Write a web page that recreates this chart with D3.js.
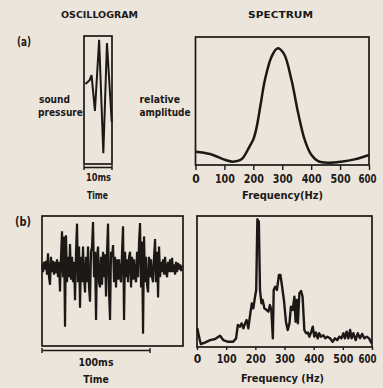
<!DOCTYPE html>
<html>
<head>
<meta charset="utf-8">
<script src="https://cdn.jsdelivr.net/npm/d3@7"></script>
<style>
  body { margin: 0; background: #ece5dc; }
  svg { display: block; }
  text { font-family: "DejaVu Sans", Lato, sans-serif; font-weight: bold; fill: #1b1816; }
</style>
</head>
<body>
<svg id="chart" width="383" height="388"></svg>
<script>
// ---- data ----
const freqTicks = [0, 100, 200, 300, 400, 500, 600];

// (a) single call, oscillogram: time in ms, relative sound pressure
const oscATime = [0.5, 2.0, 2.7, 3.9, 5.4, 6.9, 8.2, 9.9];
const oscAPressure = [0.25, 0.31, 0.39, -0.17, 0.94, -0.83, 0.89, -0.34];

// (a) spectrum
const specAFreq = [0, 50, 104, 130, 159, 188, 200, 211, 225, 240, 263, 283, 305, 332, 355, 378, 401, 424, 458, 504, 550, 600];
const specAAmp = [0.104, 0.086, 0.039, 0.026, 0.044, 0.15, 0.2, 0.29, 0.47, 0.664, 0.846, 0.911, 0.872, 0.664, 0.406, 0.195, 0.078, 0.031, 0.018, 0.026, 0.044, 0.078];

// (b) song, oscillogram: one sample every 0.93 ms
const oscBStepMs = 0.926;
const oscBPressure = [
  0.05, -0.1, 0.1, -0.05, 0.12, -0.15, 0.27, -0.2, -0.35, 0.2,
  -0.1, 0.12, -0.15, 0.1, -0.12, 0.15, -0.2, 0.1, -0.48, 0.2,
  0.7, -0.2, 0.6, -1.17, 0.62, -0.3, 0.2, -0.2, 0.45, -0.25,
  0.2, -0.3, 0.1, -0.65, 0.3, 0.85, -0.3, 0.4, -0.8, 0.2,
  -0.3, 0.4, -0.2, -0.5, 0.2, -0.3, 0.4, -0.4, -0.68, 0.3,
  0.4, 0.88, -0.2, 0.3, -1.04, 0.2, 0.4, -0.3, -0.4, 0.2,
  -0.35, 0.3, -0.2, 0.25, -0.58, 0.3, 0.85, -0.5, -1.04, 0.3,
  0.2, 0.43, -0.3, 0.2, -0.4, 0.15, -0.25, 0.15, -0.2, -0.3,
  0.3, 0.8, -1.04, 0.3, -0.2, 0.15, -0.3, 0.2, 0.3, -0.4,
  0.2, -0.25, 0.15, -0.2, -0.3, 0.3, -0.2, 0.5, 0.86, -0.4,
  0.5, -1.31, 0.6, -0.3, 0.2, -0.35, -0.5, 0.2, -0.2, 0.15,
  -0.2, -0.3, 0.2, 0.55, -0.3, 0.3, -0.6, 0.4, -0.2, 0.1,
  -0.1, 0.15, -0.15, 0.2, -0.1, -0.2, 0.1, -0.1, 0.15, -0.1,
  0.18, -0.1, 0.05, -0.15, 0.1, -0.1, 0.08, -0.05, 0.05, -0.08,
  0.03
];

// (b) spectrum
const specBFreq = [1, 7, 13, 27, 45, 62, 79, 90, 107, 124, 134, 140, 147, 153, 159, 165, 170, 176, 182, 188,
  193, 199, 203, 207, 212, 216, 221, 225, 231, 239, 245, 250, 255, 260, 263, 268, 274, 281, 286, 291,
  298, 305, 311, 317, 322, 328, 334, 338, 342, 346, 351, 357, 362, 368, 374, 380, 385, 391, 397, 402,
  408, 414, 419, 425, 433, 440, 447, 456, 465, 473, 481, 488, 495, 502, 507, 513, 519, 525, 530, 536,
  544, 551, 559, 566, 574, 582, 590, 599];
const specBAmp = [0.145, 0.079, 0.023, 0.033, 0.053, 0.061, 0.086, 0.053, 0.04, 0.04, 0.066, 0.168, 0.155, 0.18, 0.143, 0.18, 0.206, 0.143, 0.244, 0.333,
  0.295, 0.384, 0.435, 0.975, 0.957, 0.435, 0.333, 0.359, 0.295, 0.282, 0.27, 0.32, 0.282, 0.066, 0.435, 0.46, 0.435, 0.55, 0.55, 0.473,
  0.359, 0.193, 0.13, 0.18, 0.308, 0.282, 0.384, 0.193, 0.359, 0.18, 0.41, 0.427, 0.384, 0.13, 0.105, 0.11, 0.079, 0.11, 0.155, 0.079,
  0.11, 0.066, 0.105, 0.079, 0.09, 0.066, 0.079, 0.066, 0.04, 0.066, 0.053, 0.079, 0.066, 0.105, 0.066, 0.117, 0.066, 0.13, 0.066, 0.105,
  0.053, 0.105, 0.066, 0.1, 0.066, 0.079, 0.066, 0.028];

// ---- drawing ----
const ink = "#1b1816";
const svg = d3.select("#chart");

function box(x0, x1, y0, y1) {
  svg.append("rect")
    .attr("x", x0).attr("y", y0)
    .attr("width", x1 - x0).attr("height", y1 - y0)
    .attr("fill", "none").attr("stroke", ink).attr("stroke-width", 1.7);
}

function label(txt, x, y, size, len, anchor) {
  const t = svg.append("text")
    .attr("x", x).attr("y", y)
    .attr("font-size", size)
    .attr("text-anchor", anchor || "middle")
    .text(txt);
  if (len) t.attr("textLength", len).attr("lengthAdjust", "spacingAndGlyphs");
  return t;
}

function scaleBar(x0, x1, y) {
  svg.append("line").attr("x1", x0).attr("x2", x1).attr("y1", y).attr("y2", y)
    .attr("stroke", ink).attr("stroke-width", 1.6);
  [x0, x1].forEach(x => svg.append("line")
    .attr("x1", x).attr("x2", x).attr("y1", y - 2.5).attr("y2", y + 2.5)
    .attr("stroke", ink).attr("stroke-width", 1.4));
}

function freqAxis(x, y, tickLen) {
  const ax = svg.append("g")
    .attr("transform", `translate(0,${y})`)
    .call(d3.axisBottom(x).tickValues(freqTicks).tickSize(tickLen).tickPadding(4.5));
  ax.select(".domain").remove();
  ax.selectAll("line").attr("stroke", ink).attr("stroke-width", 1.4);
  ax.selectAll("text")
    .attr("font-size", 12.5).attr("fill", ink)
    .attr("font-family", "'DejaVu Sans', sans-serif").attr("font-weight", "bold")
    .attr("textLength", d => d === 0 ? 7.5 : (d === 600 ? 18 : 20))
    .attr("lengthAdjust", "spacingAndGlyphs");
  // last label sits against the page edge: anchor it by its end, inside the page
  ax.selectAll("text").filter(d => d === 600)
    .attr("font-size", 11.5)
    .attr("text-anchor", "end")
    .attr("dx", Math.min(9, 376 - x(600)));
}

// (a) oscillogram
const xOscA = d3.scaleLinear().domain([0, 10]).range([84, 112]);
const yOscA = d3.scaleLinear().domain([-1, 1]).range([164, 36]);
svg.append("path")
  .datum(d3.zip(oscATime, oscAPressure))
  .attr("fill", "none").attr("stroke", ink).attr("stroke-width", 2)
  .attr("d", d3.line().x(d => xOscA(d[0])).y(d => yOscA(d[1])));
box(84, 112, 36, 164);
scaleBar(xOscA(0), xOscA(10), 167.5);

// (a) spectrum
const xSpecA = d3.scaleLinear().domain([0, 600]).range([195.5, 369]);
const ySpecA = d3.scaleLinear().domain([0, 1]).range([165, 37]);
svg.append("path")
  .datum(d3.zip(specAFreq, specAAmp))
  .attr("fill", "none").attr("stroke", ink).attr("stroke-width", 2.5)
  .attr("d", d3.line().curve(d3.curveCatmullRom).x(d => xSpecA(d[0])).y(d => ySpecA(d[1])));
box(195.5, 369, 37, 165);
freqAxis(xSpecA, 165, 5);

// (b) oscillogram
const xOscB = d3.scaleLinear().domain([0, 130.5]).range([42, 183]);
const yOscB = d3.scaleLinear().domain([-1.55, 1]).range([346, 216]);
svg.append("path")
  .datum(oscBPressure)
  .attr("fill", "none").attr("stroke", ink).attr("stroke-width", 2.2)
  .attr("d", d3.line().x((d, i) => xOscB(i * oscBStepMs)).y(d => yOscB(d)));
box(42, 183, 216, 346);
scaleBar(xOscB(0), xOscB(100), 350.5);

// (b) spectrum
const xSpecB = d3.scaleLinear().domain([0, 600]).range([197, 372]);
const ySpecB = d3.scaleLinear().domain([0, 1]).range([347, 216]);
svg.append("path")
  .datum(d3.zip(specBFreq, specBAmp))
  .attr("fill", "none").attr("stroke", ink).attr("stroke-width", 2.4)
  .attr("stroke-linejoin", "round")
  .attr("d", d3.line().x(d => xSpecB(d[0])).y(d => ySpecB(d[1])));
box(197, 372, 216, 347);
freqAxis(xSpecB, 347, 3);

// ---- texts ----
label("OSCILLOGRAM", 99.5, 18, 9.5, 77);
label("SPECTRUM", 280.5, 18, 9.5, 65);
label("(a)", 17, 45.5, 11.5, 14, "start");
label("(b)", 15, 226, 11.5, 16, "start");
label("sound", 39, 103, 10.5, 31, "start");
label("pressure", 38, 115.5, 10.5, 45, "start");
label("relative", 139.5, 103, 10.5, 40.5, "start");
label("amplitude", 139.5, 115.5, 10.5, 51, "start");
label("10ms", 98.5, 181, 10.5, 25);
label("Time", 97.5, 199, 10.5, 21);
label("Frequency(Hz)", 282.5, 198.5, 10.5, 81);
label("100ms", 96, 366, 10.5, 35);
label("Time", 96, 382.5, 10.5, 25.5);
label("Frequency (Hz)", 282.5, 381.5, 10.5, 83);
</script>
</body>
</html>
